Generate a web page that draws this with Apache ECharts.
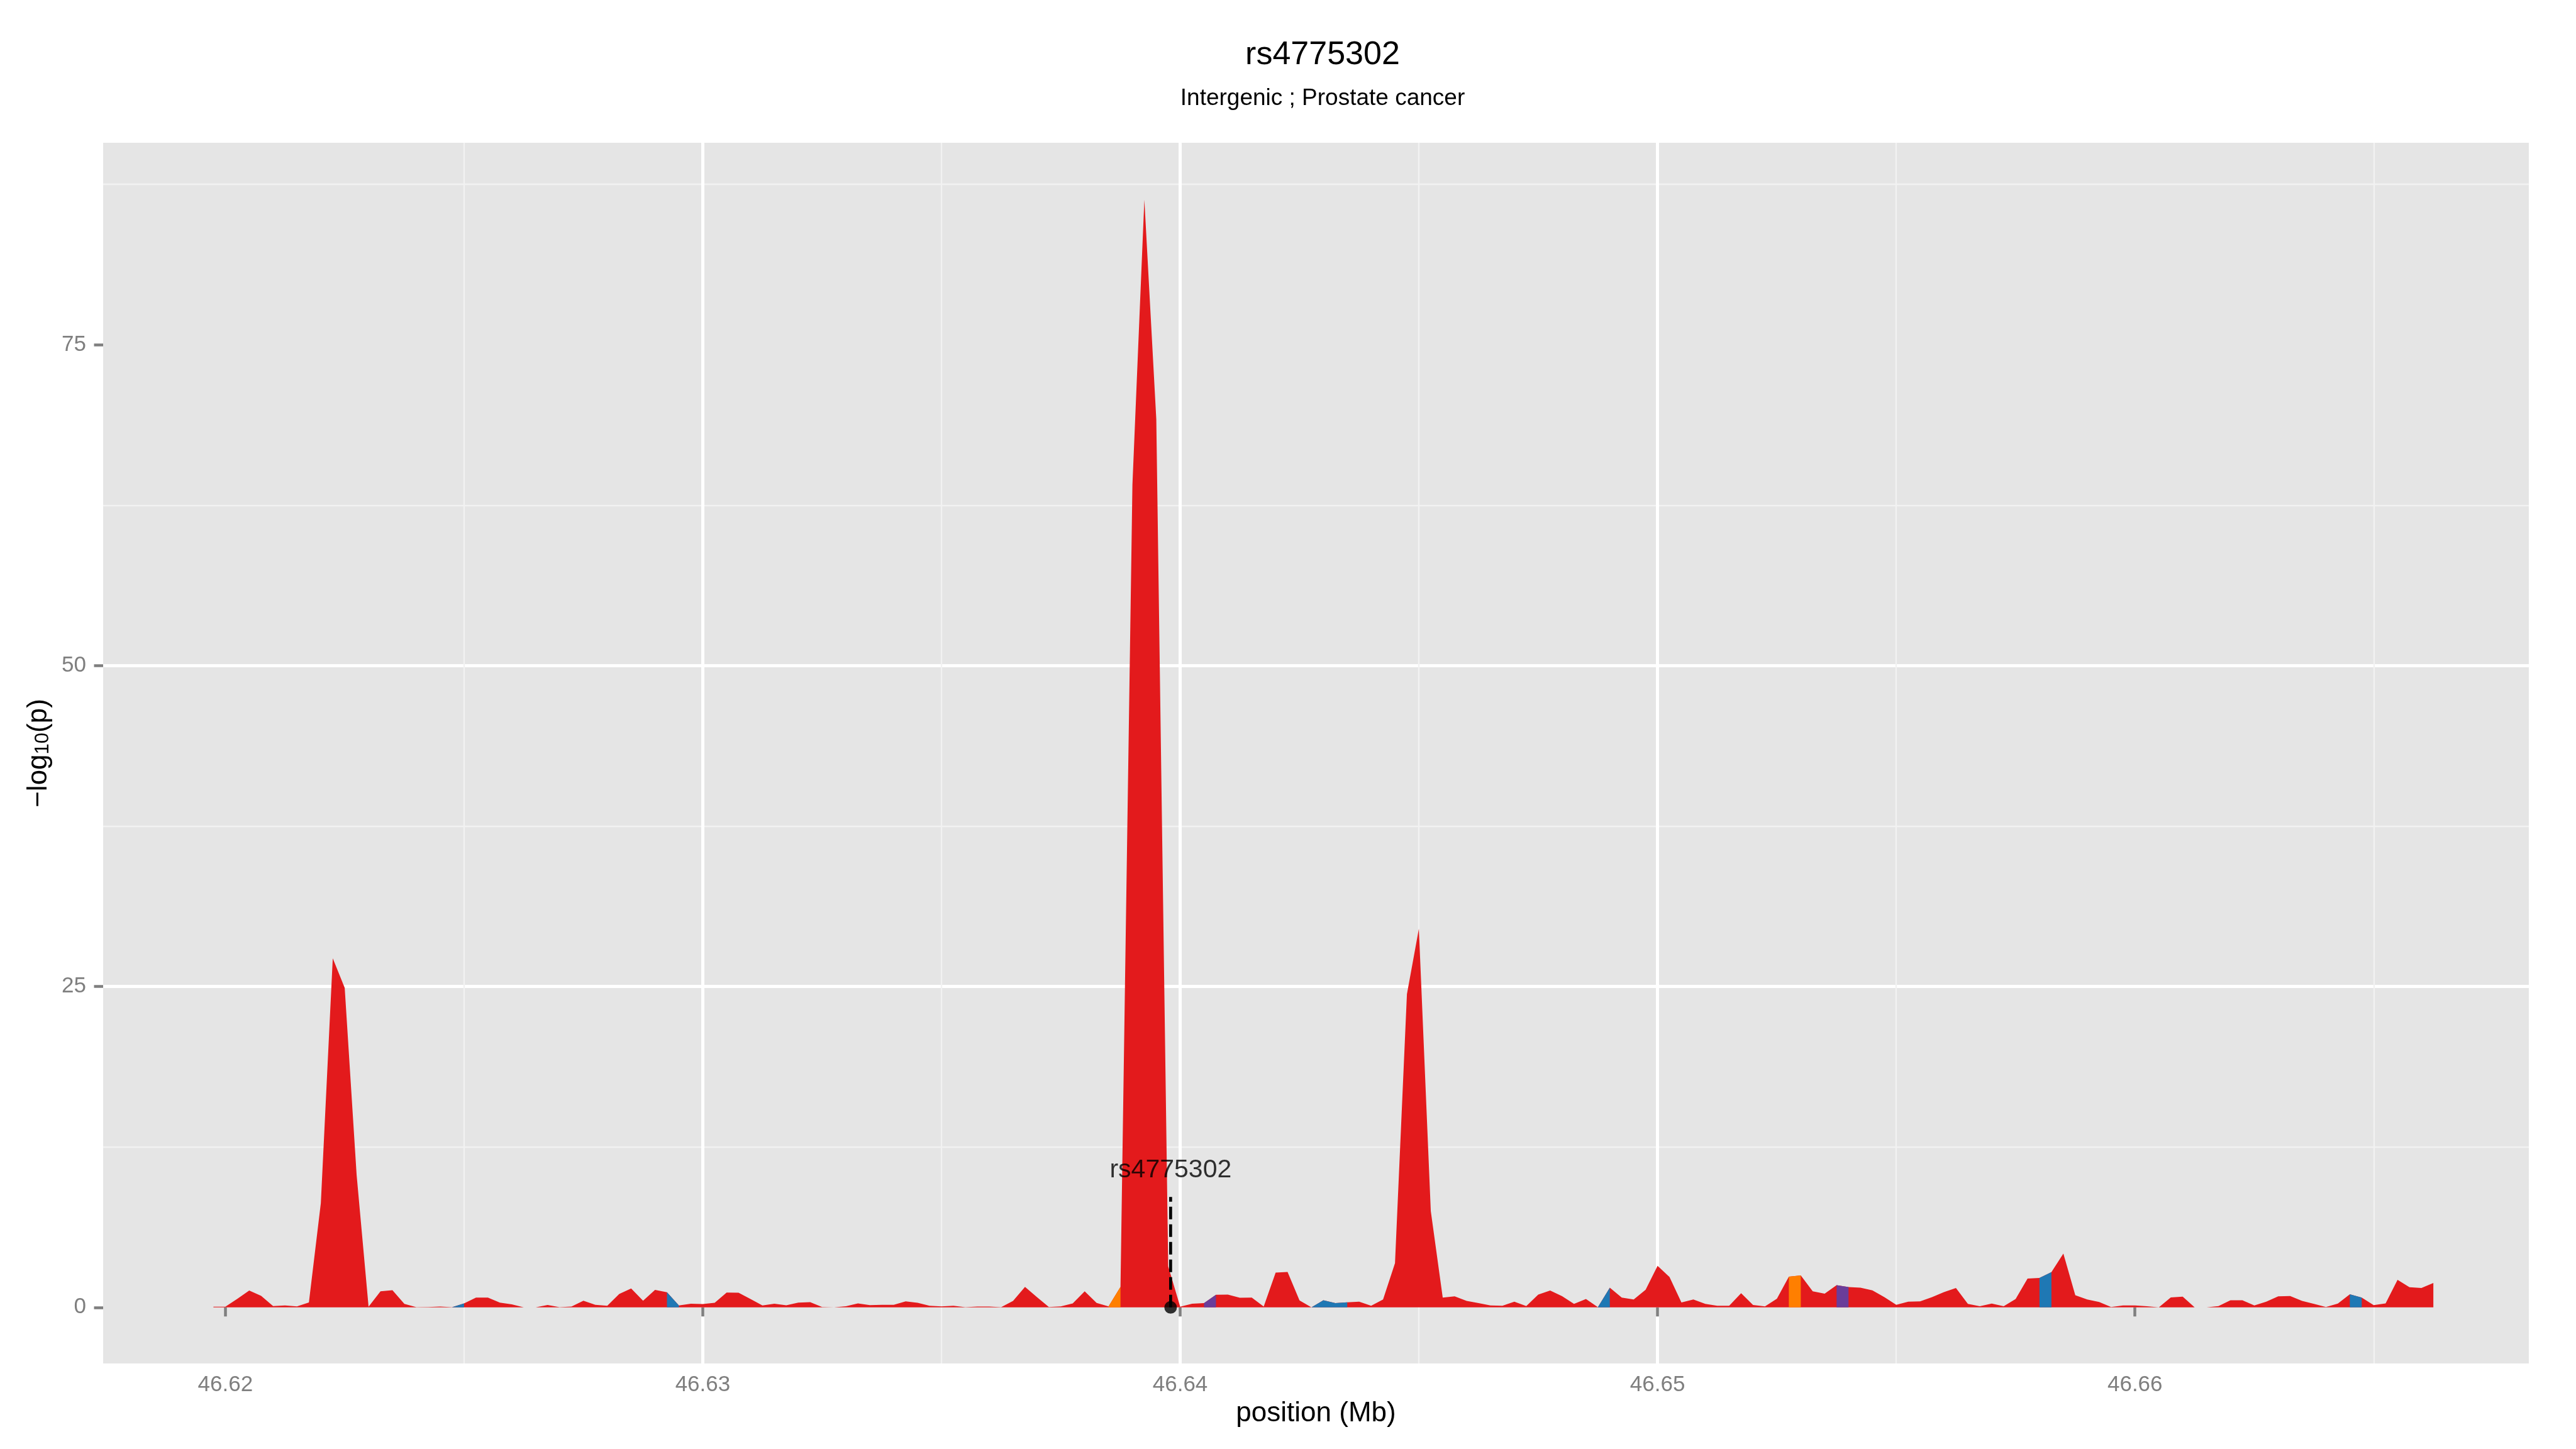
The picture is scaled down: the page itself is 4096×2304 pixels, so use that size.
<!DOCTYPE html>
<html>
<head>
<meta charset="utf-8">
<title>rs4775302</title>
<script src="https://cdn.jsdelivr.net/npm/echarts@6.0.0/dist/echarts.min.js"></script>
<style>
  html, body { margin: 0; padding: 0; background: #fff; }
  #chart { width: 4096px; height: 2304px; }
</style>
</head>
<body>
<div id="chart"></div>
<script>
// positions (Mb) of the bins along the region
const positions = [
  46.61975, 46.62, 46.62025, 46.6205, 46.62075, 46.621, 46.62125, 46.6215,
  46.62175, 46.622, 46.62225, 46.6225, 46.62275, 46.623, 46.62325, 46.6235,
  46.62375, 46.624, 46.62425, 46.6245, 46.62475, 46.625, 46.62525, 46.6255,
  46.62575, 46.626, 46.62625, 46.6265, 46.62675, 46.627, 46.62725, 46.6275,
  46.62775, 46.628, 46.62825, 46.6285, 46.62875, 46.629, 46.62925, 46.6295,
  46.62975, 46.63, 46.63025, 46.6305, 46.63075, 46.631, 46.63125, 46.6315,
  46.63175, 46.632, 46.63225, 46.6325, 46.63275, 46.633, 46.63325, 46.6335,
  46.63375, 46.634, 46.63425, 46.6345, 46.63475, 46.635, 46.63525, 46.6355,
  46.63575, 46.636, 46.63625, 46.6365, 46.63675, 46.637, 46.63725, 46.6375,
  46.63775, 46.638, 46.63825, 46.6385, 46.63875, 46.639, 46.63925, 46.6395,
  46.63975, 46.64, 46.64025, 46.6405, 46.64075, 46.641, 46.64125, 46.6415,
  46.64175, 46.642, 46.64225, 46.6425, 46.64275, 46.643, 46.64325, 46.6435,
  46.64375, 46.644, 46.64425, 46.6445, 46.64475, 46.645, 46.64525, 46.6455,
  46.64575, 46.646, 46.64625, 46.6465, 46.64675, 46.647, 46.64725, 46.6475,
  46.64775, 46.648, 46.64825, 46.6485, 46.64875, 46.649, 46.64925, 46.6495,
  46.64975, 46.65, 46.65025, 46.6505, 46.65075, 46.651, 46.65125, 46.6515,
  46.65175, 46.652, 46.65225, 46.6525, 46.65275, 46.653, 46.65325, 46.6535,
  46.65375, 46.654, 46.65425, 46.6545, 46.65475, 46.655, 46.65525, 46.6555,
  46.65575, 46.656, 46.65625, 46.6565, 46.65675, 46.657, 46.65725, 46.6575,
  46.65775, 46.658, 46.65825, 46.6585, 46.65875, 46.659, 46.65925, 46.6595,
  46.65975, 46.66, 46.66025, 46.6605, 46.66075, 46.661, 46.66125, 46.6615,
  46.66175, 46.662, 46.66225, 46.6625, 46.66275, 46.663, 46.66325, 46.6635,
  46.66375, 46.664, 46.66425, 46.6645, 46.66475, 46.665, 46.66525, 46.6655,
  46.66575, 46.666, 46.66625
];

// -log10(p) at each position
const logP = [
  0.05, 0.05, 0.66, 1.32, 0.90, 0.10, 0.15, 0.08,
  0.38, 8.13, 27.2, 24.9, 10.3, 0.05, 1.25, 1.34,
  0.27, 0.02, 0.03, 0.06, 0.02, 0.31, 0.76, 0.76,
  0.37, 0.24, 0.0, 0.0, 0.19, 0.01, 0.07, 0.52,
  0.20, 0.12, 1.04, 1.47, 0.52, 1.36, 1.18, 0.15,
  0.29, 0.26, 0.36, 1.16, 1.14, 0.65, 0.15, 0.29,
  0.16, 0.37, 0.41, 0.03, 0.0, 0.09, 0.31, 0.17,
  0.20, 0.20, 0.47, 0.36, 0.12, 0.08, 0.13, 0.02,
  0.06, 0.06, 0.02, 0.50, 1.60, 0.80, 0.03, 0.08,
  0.31, 1.25, 0.35, 0.08, 1.60, 64.1, 86.3, 69.2,
  3.2, 0.05, 0.29, 0.33, 0.98, 1.00, 0.75, 0.76,
  0.06, 2.71, 2.76, 0.54, 0.0, 0.56, 0.33, 0.40,
  0.45, 0.12, 0.61, 3.44, 24.4, 29.5, 7.5, 0.76,
  0.86, 0.50, 0.34, 0.15, 0.13, 0.45, 0.10, 1.00,
  1.32, 0.87, 0.27, 0.65, 0.02, 1.54, 0.76, 0.62,
  1.37, 3.24, 2.37, 0.38, 0.61, 0.27, 0.13, 0.12,
  1.11, 0.19, 0.08, 0.68, 2.39, 2.49, 1.25, 1.07,
  1.73, 1.58, 1.54, 1.33, 0.80, 0.20, 0.44, 0.47,
  0.80, 1.19, 1.51, 0.27, 0.09, 0.30, 0.09, 0.65,
  2.24, 2.30, 2.75, 4.19, 0.95, 0.62, 0.42, 0.03,
  0.15, 0.15, 0.09, 0.0, 0.77, 0.84, 0.0, 0.0,
  0.10, 0.55, 0.56, 0.15, 0.45, 0.86, 0.88, 0.50,
  0.27, 0.03, 0.30, 1.02, 0.76, 0.17, 0.31, 2.15,
  1.57, 1.51, 1.90
];

// segments (index of left point) drawn in another colour
const blueSegments = [20, 38, 92, 93, 94, 116, 153, 179];
const orangeSegments = [75, 132];
const purpleSegments = [83, 136];

const xTicks = [46.62, 46.63, 46.64, 46.65, 46.66];
const yTicks = [0, 25, 50, 75];

const snpName = "rs4775302";
const snpPos = 46.6398;
const snpLineTop = 8.6;
const snpLabelY = 10.7;

const FONT = "Liberation Sans";
const RED = "#E31A1C";

const chart = echarts.init(document.getElementById("chart"), null, { renderer: "canvas" });

function segmentData(segs) {
  return positions.map((x, k) =>
    segs.includes(k) || segs.includes(k - 1) ? [x, logP[k]] : [x, "-"]
  );
}

function areaSeries(name, color, data, z) {
  return {
    name: name,
    type: "line",
    data: data,
    symbol: "none",
    connectNulls: false,
    silent: true,
    z: z,
    lineStyle: { width: 0, opacity: 0 },
    itemStyle: { color: color },
    areaStyle: { color: color, opacity: 1, origin: "auto" },
  };
}

const option = {
  animation: false,
  backgroundColor: "#FFFFFF",
  grid: {
    left: 164,
    right: 75,
    top: 227,
    bottom: 136,
    show: true,
    backgroundColor: "#E5E5E5",
    borderWidth: 0,
  },
  graphic: [
    {
      type: "text",
      x: 2103,
      y: 88,
      style: {
        text: "rs4775302",
        fill: "#000",
        fontSize: 52,
        fontFamily: FONT,
        textAlign: "center",
        textVerticalAlign: "middle",
      },
    },
    {
      type: "text",
      x: 2103,
      y: 157,
      style: {
        text: "Intergenic ; Prostate cancer",
        fill: "#000",
        fontSize: 37,
        fontFamily: FONT,
        textAlign: "center",
        textVerticalAlign: "middle",
      },
    },
  ],
  xAxis: {
    type: "value",
    min: 46.61744,
    max: 46.66825,
    minInterval: 0.01,
    maxInterval: 0.01,
    name: "position (Mb)",
    nameLocation: "middle",
    nameGap: 58,
    nameTextStyle: { fontSize: 44, color: "#000", fontFamily: FONT },
    axisLine: { show: false },
    axisTick: {
      show: true,
      length: 14.5,
      customValues: xTicks,
      lineStyle: { color: "#7F7F7F", width: 4.5 },
    },
    axisLabel: {
      customValues: xTicks,
      color: "#7F7F7F",
      fontSize: 35,
      fontFamily: FONT,
      margin: 17,
    },
    splitLine: {
      show: true,
      showMinLine: false,
      showMaxLine: false,
      lineStyle: { color: "#FFFFFF", width: 5 },
    },
    minorTick: { show: false, splitNumber: 2 },
    minorSplitLine: { show: true, lineStyle: { color: "#F2F2F2", width: 2.3 } },
  },
  yAxis: {
    type: "value",
    min: -4.37,
    max: 90.74,
    minInterval: 25,
    maxInterval: 25,
    name: "\u2212log{s|10}(p)",
    nameLocation: "middle",
    nameRotate: 90,
    nameGap: 80,
    nameTextStyle: {
      fontSize: 44,
      color: "#000",
      fontFamily: FONT,
      rich: {
        s: { fontSize: 31, color: "#000", fontFamily: FONT, verticalAlign: "bottom" },
      },
    },
    axisLine: { show: false },
    axisTick: {
      show: true,
      length: 14.5,
      customValues: yTicks,
      lineStyle: { color: "#7F7F7F", width: 4.5 },
    },
    axisLabel: {
      customValues: yTicks,
      color: "#7F7F7F",
      fontSize: 35,
      fontFamily: FONT,
      margin: 27,
    },
    splitLine: {
      show: true,
      showMinLine: false,
      showMaxLine: false,
      lineStyle: { color: "#FFFFFF", width: 5 },
    },
    minorTick: { show: false, splitNumber: 2 },
    minorSplitLine: { show: true, lineStyle: { color: "#F2F2F2", width: 2.3 } },
  },
  series: [
    areaSeries("all", RED, positions.map((x, k) => [x, logP[k]]), 2),
    areaSeries("blue", "#1F78B4", segmentData(blueSegments), 3),
    areaSeries("orange", "#FF7F00", segmentData(orangeSegments), 3),
    areaSeries("purple", "#6A3D9A", segmentData(purpleSegments), 3),
    {
      type: "line",
      data: [[snpPos, 0], [snpPos, snpLineTop]],
      symbol: "none",
      silent: true,
      z: 5,
      lineStyle: { color: "#000", width: 4.7, type: [20, 8] },
    },
    {
      type: "scatter",
      data: [[snpPos, 0]],
      symbolSize: 20,
      silent: true,
      z: 6,
      itemStyle: { color: "#000" },
    },
    {
      type: "scatter",
      data: [[snpPos, snpLabelY]],
      symbolSize: 1,
      silent: true,
      z: 6,
      itemStyle: { color: "rgba(0,0,0,0)" },
      label: {
        show: true,
        position: "inside",
        formatter: snpName,
        color: "#000",
        fontSize: 41,
        fontFamily: FONT,
      },
    },
  ],
};

chart.setOption(option);
</script>
</body>
</html>
